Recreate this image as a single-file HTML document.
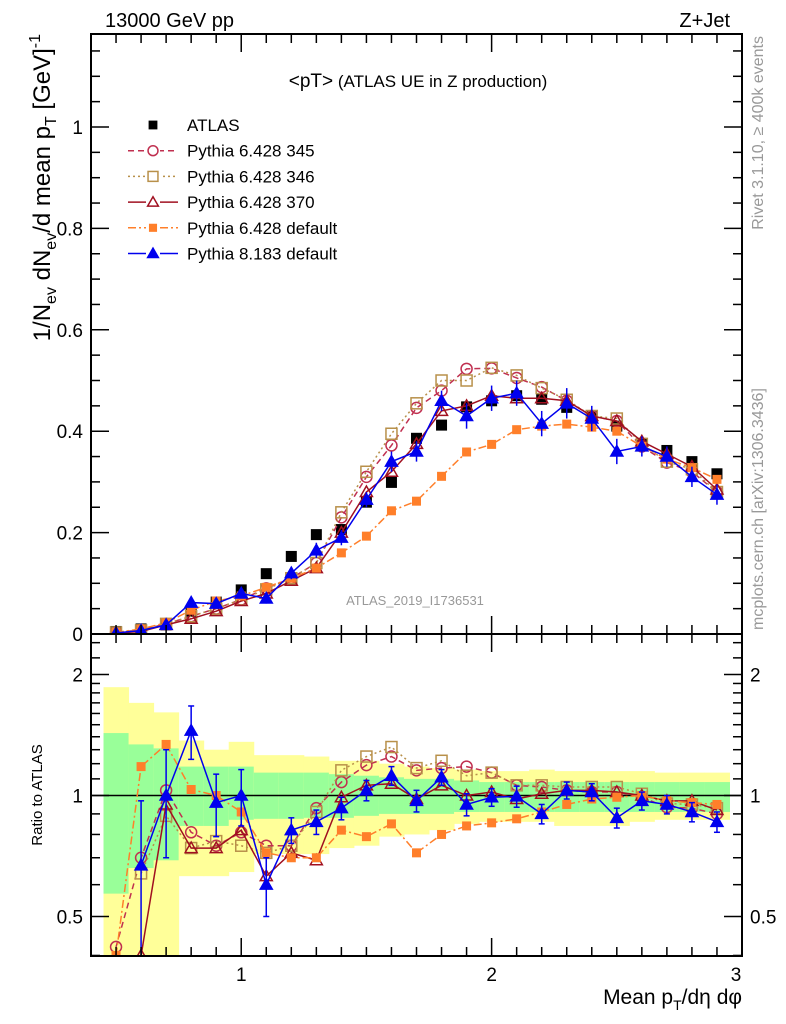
<!DOCTYPE html>
<html><head><meta charset="utf-8"><style>
html,body{margin:0;padding:0;background:#fff;}
svg{display:block;font-family:"Liberation Sans",sans-serif;}
</style></head><body>
<svg id="chart" width="786" height="1024" viewBox="0 0 786 1024" xmlns="http://www.w3.org/2000/svg">
<g id="bands"></g>
<g id="series"></g>
<g id="axes"></g>
<text x="105" y="27" font-size="20">13000 GeV pp</text>
<text x="730" y="27" font-size="20" text-anchor="end">Z+Jet</text>
<text x="418" y="87" font-size="17" text-anchor="middle"><tspan font-size="19">&lt;pT&gt;</tspan> (ATLAS UE in Z production)</text>
<text x="415" y="605" font-size="13" fill="#999" text-anchor="middle">ATLAS_2019_I1736531</text>
<text transform="translate(763,36) rotate(-90)" font-size="16" fill="#999" text-anchor="end">Rivet 3.1.10, ≥ 400k events</text>
<text transform="translate(763,630) rotate(-90)" font-size="16" fill="#999" text-anchor="start">mcplots.cern.ch [arXiv:1306.3436]</text>
<text transform="translate(50,34) rotate(-90)" font-size="24" text-anchor="end">1/N<tspan font-size="16" dy="6">ev</tspan><tspan dy="-6"> dN</tspan><tspan font-size="16" dy="6">ev</tspan><tspan dy="-6">/d mean p</tspan><tspan font-size="16" dy="6">T</tspan><tspan dy="-6"> [GeV]</tspan><tspan font-size="16" dy="-10">-1</tspan></text>
<text transform="translate(42,795) rotate(-90)" font-size="15" text-anchor="middle">Ratio to ATLAS</text>
<text x="742" y="1004" font-size="21" text-anchor="end">Mean p<tspan font-size="14" dy="6">T</tspan><tspan dy="-6">/dη dφ</tspan></text>
<g id="legend"></g>
</svg>
<script>
const xs=[0.5,0.6,0.7,0.8,0.9,1.0,1.1,1.2,1.3,1.4,1.5,1.6,1.7,1.8,1.9,2.0,2.1,2.2,2.3,2.4,2.5,2.6,2.7,2.8,2.9];
const atlas=[0.005,0.01,0.018,0.045,0.063,0.087,0.119,0.153,0.196,0.206,0.26,0.299,0.386,0.412,0.448,0.46,0.47,0.463,0.447,0.43,0.41,0.375,0.362,0.34,0.316];
const p345=[0.003,0.008,0.02,0.035,0.05,0.068,0.09,0.11,0.14,0.23,0.31,0.372,0.446,0.48,0.523,0.524,0.505,0.487,0.46,0.43,0.42,0.37,0.338,0.32,0.28];
const p346=[0.003,0.007,0.02,0.035,0.05,0.068,0.088,0.11,0.14,0.24,0.32,0.395,0.455,0.5,0.5,0.525,0.51,0.485,0.462,0.43,0.425,0.375,0.34,0.325,0.28];
const p370=[0.002,0.005,0.018,0.03,0.045,0.065,0.08,0.105,0.13,0.2,0.28,0.32,0.375,0.44,0.45,0.47,0.465,0.465,0.46,0.43,0.42,0.38,0.355,0.33,0.285];
const pdef=[0.003,0.01,0.022,0.047,0.065,0.075,0.092,0.11,0.13,0.16,0.193,0.243,0.262,0.311,0.359,0.374,0.403,0.41,0.414,0.408,0.4,0.37,0.345,0.328,0.305];
const p8=[0.002,0.007,0.018,0.062,0.06,0.08,0.07,0.12,0.165,0.19,0.265,0.34,0.36,0.46,0.43,0.465,0.475,0.415,0.455,0.425,0.36,0.37,0.35,0.31,0.275];
const p8err=[0.002,0.004,0.005,0.008,0.008,0.01,0.01,0.012,0.015,0.015,0.015,0.02,0.02,0.02,0.025,0.025,0.025,0.025,0.03,0.025,0.025,0.02,0.02,0.02,0.02];
const r345=[0.42,0.70,1.03,0.81,0.75,0.81,0.75,0.75,0.93,1.08,1.19,1.25,1.155,1.17,1.18,1.14,1.06,1.05,1.03,1.02,1.02,0.99,0.935,0.93,0.9];
const r346=[null,0.64,0.89,0.74,0.77,0.75,0.72,0.75,0.91,1.155,1.25,1.32,1.17,1.22,1.12,1.14,1.06,1.06,1.05,1.05,1.05,1.01,0.955,0.95,0.93];
const r370=[null,0.4,0.95,0.74,0.74,0.82,0.63,0.72,0.69,0.99,1.06,1.07,0.98,1.06,1.0,1.02,0.98,1.01,1.03,1.03,1.02,1.0,0.97,0.97,0.92];
const rdef=[0.4,1.18,1.34,1.035,1.0,0.91,0.72,0.70,0.70,0.82,0.79,0.85,0.72,0.80,0.84,0.855,0.875,0.91,0.95,0.98,0.99,1.0,0.97,0.96,0.95];
const r8=[null,0.67,1.0,1.45,0.96,1.0,0.6,0.82,0.86,0.93,1.03,1.12,0.97,1.11,0.95,0.99,0.995,0.9,1.03,1.02,0.88,0.97,0.95,0.91,0.86];
const r8err=[0,0.3,0.3,0.22,0.17,0.16,0.1,0.06,0.06,0.06,0.06,0.06,0.06,0.05,0.06,0.05,0.06,0.05,0.05,0.05,0.05,0.05,0.05,0.05,0.05];
const yelTop=[1.86,1.70,1.61,1.37,1.30,1.36,1.26,1.26,1.25,1.22,1.22,1.2,1.18,1.17,1.16,1.15,1.15,1.16,1.15,1.15,1.15,1.15,1.14,1.14,1.14];
const yelBot=[0.3,0.3,0.3,0.63,0.63,0.645,0.715,0.715,0.715,0.74,0.75,0.79,0.8,0.82,0.85,0.86,0.86,0.86,0.84,0.84,0.84,0.86,0.87,0.87,0.87];
const grnTop=[1.43,1.34,1.31,1.18,1.18,1.18,1.14,1.14,1.14,1.13,1.12,1.11,1.1,1.1,1.09,1.08,1.08,1.08,1.08,1.08,1.08,1.08,1.08,1.08,1.08];
const grnBot=[0.57,0.66,0.69,0.84,0.84,0.87,0.875,0.875,0.88,0.88,0.89,0.9,0.9,0.9,0.91,0.91,0.91,0.91,0.91,0.91,0.91,0.91,0.91,0.91,0.91];
const mainTicks=["0","0.2","0.4","0.6","0.8","1"];
const xTickLabels=["1","2","3"];

const NS="http://www.w3.org/2000/svg";
const L=91,R=742,T=34,MB=634,RB=956;
const X=v=>L+(v-0.4)*(R-L)/2.6;
const Y=v=>MB-v*507;
const RY=v=>795.5-121*Math.log2(v);
const BW=(R-L)/26;
function mk(tag,attrs,parent){const e=document.createElementNS(NS,tag);for(const k in attrs)e.setAttribute(k,attrs[k]);parent.appendChild(e);return e;}
const bands=document.getElementById('bands'),series=document.getElementById('series'),axes=document.getElementById('axes'),legend=document.getElementById('legend');
const clipR=mk('clipPath',{id:'cr'},mk('defs',{},document.getElementById('chart')));mk('rect',{x:L,y:MB,width:R-L,height:RB-MB},clipR);
const clipM=mk('clipPath',{id:'cm'},document.querySelector('defs'));mk('rect',{x:L,y:T,width:R-L,height:MB-T},clipM);
bands.setAttribute('clip-path','url(#cr)');
xs.forEach((x,i)=>{
 const y=mk('rect',{x:X(x)-BW/2,y:RY(yelTop[i]),width:BW+0.5,height:RY(yelBot[i])-RY(yelTop[i]),fill:'#ffff99'},bands);
 
 
 const g=mk('rect',{x:X(x)-BW/2,y:RY(grnTop[i]),width:BW+0.5,height:RY(grnBot[i])-RY(grnTop[i]),fill:'#99ff99'},bands);
 
 
});
const oneLine=mk('line',{x1:L,x2:R,y1:RY(1),y2:RY(1),stroke:'#000','stroke-width':1.5},bands);



const styles=[
 {name:'pythia-345',m:'circle',c:'#c03050',dash:'6,4',main:p345,ratio:r345},
 {name:'pythia-346',m:'square',c:'#b8904a',dash:'2,3',main:p346,ratio:r346},
 {name:'pythia-370',m:'triangle',c:'#a01020',dash:'',main:p370,ratio:r370},
 {name:'pythia-6-default',m:'fsquare',c:'#ff7f2a',dash:'8,3,2,3',main:pdef,ratio:rdef},
 {name:'pythia-8-default',m:'ftriangle',c:'#0000ee',dash:'',main:p8,ratio:r8,err:p8err,rerr:r8err}
];
function marker(type,cx,cy,c,parent,s){
 s=s||1;let e;
 if(type==='circle')e=mk('circle',{cx,cy,r:5.5*s,fill:'none',stroke:c,'stroke-width':1.5},parent);
 else if(type==='square')e=mk('rect',{x:cx-5.5*s,y:cy-5.5*s,width:11*s,height:11*s,fill:'none',stroke:c,'stroke-width':1.5},parent);
 else if(type==='fsquare')e=mk('rect',{x:cx-4.5*s,y:cy-4.5*s,width:9*s,height:9*s,fill:c},parent);
 else if(type==='bsquare')e=mk('rect',{x:cx-5.5*s,y:cy-5.5*s,width:11*s,height:11*s,fill:c},parent);
 else {const h=6*s;e=mk('polygon',{points:`${cx},${cy-h} ${cx-h},${cy+h*0.75} ${cx+h},${cy+h*0.75}`,fill:type==='ftriangle'?c:'none',stroke:c,'stroke-width':1.5},parent);}
 return e;
}
const gm=mk('g',{'clip-path':'url(#cm)'},series);
const gr=mk('g',{'clip-path':'url(#cr)'},series);
xs.forEach((x,i)=>{const m=marker('bsquare',X(x),Y(atlas[i]),'#000',gm);
 
 });
styles.forEach(s=>{
 const pts=xs.map((x,i)=>[X(x),Y(s.main[i])]);
 const pl=mk('polyline',{points:pts.map(p=>p.join(',')).join(' '),fill:'none',stroke:s.c,'stroke-width':1.5,'stroke-dasharray':s.dash},gm);
 
 
 xs.forEach((x,i)=>{
  if(s.err){mk('line',{x1:X(x),x2:X(x),y1:Y(s.main[i]-s.err[i]),y2:Y(s.main[i]+s.err[i]),stroke:s.c,'stroke-width':1.5},gm);}
  const m=marker(s.m,X(x),Y(s.main[i]),s.c,gm);
  
  
 });
 const rp=[];xs.forEach((x,i)=>{if(s.ratio[i]!=null)rp.push([X(x),RY(s.ratio[i])]);});
 const rl=mk('polyline',{points:rp.map(p=>p.join(',')).join(' '),fill:'none',stroke:s.c,'stroke-width':1.5,'stroke-dasharray':s.dash},gr);
 
 
 xs.forEach((x,i)=>{
  if(s.ratio[i]==null)return;
  if(s.rerr&&s.rerr[i]>0){const a=RY(s.ratio[i]-s.rerr[i]),b=RY(s.ratio[i]+s.rerr[i]);
   mk('line',{x1:X(x),x2:X(x),y1:a,y2:b,stroke:s.c,'stroke-width':1.5},gr);
   mk('line',{x1:X(x)-3,x2:X(x)+3,y1:a,y2:a,stroke:s.c,'stroke-width':1.5},gr);
   mk('line',{x1:X(x)-3,x2:X(x)+3,y1:b,y2:b,stroke:s.c,'stroke-width':1.5},gr);}
  const m=marker(s.m,X(x),RY(s.ratio[i]),s.c,gr);
  
  
 });
});
const f1=mk('rect',{x:L,y:T,width:R-L,height:MB-T,fill:'none',stroke:'#000','stroke-width':2},axes);

const f2=mk('rect',{x:L,y:MB,width:R-L,height:RB-MB,fill:'none',stroke:'#000','stroke-width':2},axes);

function tk(x1,y1,x2,y2){mk('line',{x1,y1,x2,y2,stroke:'#000','stroke-width':1.5},axes);}
for(let k=5;k<=29;k++){const v=k/10,x=X(v),maj=(k%10===0),len=maj?18:9;
 tk(x,T,x,T+len);tk(x,MB,x,MB-len);tk(x,MB,x,MB+len);tk(x,RB,x,RB-len);}
for(let k=0;k<=23;k++){const v=k*0.05,y=Y(v),maj=(k%4===0),len=maj?18:9;tk(L,y,L+len,y);tk(R,y,R-len,y);}
mainTicks.forEach((t,i)=>{const e=mk('text',{x:L-8,y:Y(i*0.2)+7,'font-size':19,'text-anchor':'end'},axes);e.textContent=t;
 });
const rmin=[0.4,0.5,0.6,0.7,0.8,0.9,1,1.1,1.2,1.3,1.4,1.5,1.6,1.7,1.8,1.9,2,2.2,2.4];
rmin.forEach(v=>{const maj=(v===0.5||v===1||v===2),len=maj?18:9,y=RY(v);tk(L,y,L+len,y);tk(R,y,R-len,y);});
[["2",2],["1",1],["0.5",0.5]].forEach(([t,v])=>{
 const a=mk('text',{x:L-8,y:RY(v)+7,'font-size':19,'text-anchor':'end'},axes);a.textContent=t;
 
 const b=mk('text',{x:R+8,y:RY(v)+7,'font-size':19},axes);b.textContent=t;
 });
xTickLabels.forEach((t,i)=>{const e=mk('text',{x:X(i+1)+(i===2?-6:0),y:981,'font-size':19,'text-anchor':'middle'},axes);e.textContent=t;
 });
const labels=['ATLAS','Pythia 6.428 345','Pythia 6.428 346','Pythia 6.428 370','Pythia 6.428 default','Pythia 8.183 default'];
labels.forEach((lab,i)=>{const y=125+i*25.7;
 const g=mk('g',{},legend);
 
 
 if(i===0){marker('bsquare',153,y,'#000',g,0.8);}
 else{const s=styles[i-1];mk('line',{x1:128,x2:178,y1:y,y2:y,stroke:s.c,'stroke-width':1.5,'stroke-dasharray':s.dash},g);
  mk('rect',{x:146,y:y-7,width:14,height:14,fill:'#fff'},g);marker(s.m,153,y,s.c,g,0.9);}
 const t=mk('text',{x:187,y:y+6,'font-size':17},g);t.textContent=lab;});
</script>
</body></html>
